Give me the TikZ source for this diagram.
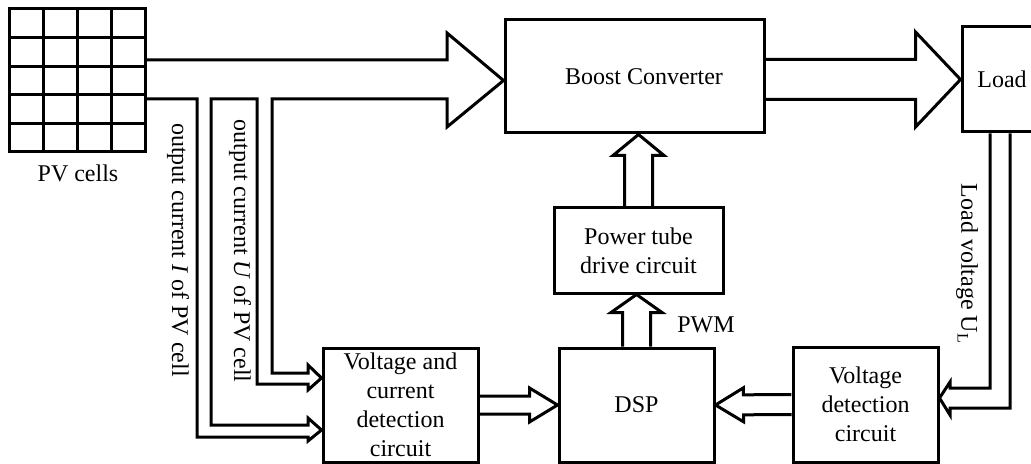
\documentclass[tikz,border=0pt]{standalone}
\usepackage{fontspec}
\setmainfont{Liberation Serif}
\usetikzlibrary{calc}

\tikzset{
  blk/.style={draw, inner sep=0pt, align=center},
  flow/.style={line join=miter},
  vlabel/.style={rotate=-90, inner sep=0pt},
}
% hollow block arrow: from, to, half shaft, half head, head length
\newcommand{\fatarrow}[5]{%
  \coordinate (fa-c) at ($(#2)!#5!(#1)$);
  \draw[flow] ($(#1)!#3!90:(#2)$) -- ($(fa-c)!#3!-90:(#1)$) -- ($(fa-c)!#4!-90:(#1)$)
    -- (#2) -- ($(fa-c)!#4!90:(#1)$) -- ($(fa-c)!#3!90:(#1)$) -- ($(#1)!#3!-90:(#2)$);
}

\begin{document}
\begin{tikzpicture}[x=0.5pt,y=-0.5pt,line width=1.5pt,font=\fontsize{12}{14.5}\selectfont]
  \useasboundingbox (0,0) rectangle (1031,464);
  % PV array 4x5
  \node[minimum width=68pt, minimum height=71.5pt, inner sep=0pt] (pv) at (77,80.5) {};
  \foreach \i in {0,...,3} \foreach \j in {0,...,4} {
    \draw (9+\i*34, 9+\j*28.6) rectangle ++(34,28.6);
  }
  \node (pvcells) at (78,173) {PV cells};

  % blocks
  \node[blk, minimum width=129.5pt, minimum height=56.5pt] (boost) at (634.5,76.5) {\hspace*{9.5pt}Boost Converter};
  \node[blk, minimum width=40pt, minimum height=52.5pt] (load) at (1002,79.5) {Load};
  \node[blk, minimum width=84.5pt, minimum height=42.5pt] (drive) at (638.5,250.5) {Power tube\\drive circuit};
  \node[blk, minimum width=77.5pt, minimum height=57pt] (dsp) at (636.5,405) {DSP};
  \node[blk, minimum width=77.5pt, minimum height=57pt] (vcd) at (400.5,405) {Voltage and\\current\\detection\\circuit};
  \node[blk, minimum width=72.5pt, minimum height=57.5pt] (vd) at (865.5,404.5) {Voltage\\detection\\circuit};

  % labels
  \node[vlabel] (ilabel) at (178,250) {output current \textit{I} of PV cell};
  \node[vlabel] (ulabel) at (240,251) {output current \textit{U} of PV cell};
  \node[vlabel] (ullabel) at (967,264) {Load voltage U\textsubscript{L}};
  \node (pwm) at (706,325) {PWM};

  % power path from PV cells with the two sensing branches
  \draw[flow] (pv.east |- 0,60) -- (447,60) -- (447,33) -- (boost.west |- pv.east) -- (447,127) -- (447,99)
    -- (272,99) |- (308,373) -- (308,365) -- (vcd.west |- 0,378) -- (308,390) -- (308,384) -| (257,99)
    -- (211,99) |- (308,425) -- (308,418) -- (vcd.west |- 0,430) -- (308,441) -- (308,437) -| (197,99)
    -- (pv.east |- 0,99);

  % load voltage feedback
  \draw[flow] (load.south -| 990,0) |- (950,388) -- (950,382) -- (vd.east |- 0,398)
    -- (950,415) -- (950,408) -| (load.south -| 1010,0);

  % block arrows
  \fatarrow{boost.east |- load.west}{load.west}{10pt}{23.75pt}{22.5pt}
  \fatarrow{drive.north}{drive.north |- boost.south}{7pt}{12.75pt}{10.5pt}
  \fatarrow{dsp.north}{dsp.north |- drive.south}{7pt}{12.75pt}{9pt}
  \fatarrow{vcd.east}{dsp.west}{4.5pt}{8.5pt}{14pt}
  \fatarrow{vd.west}{dsp.east}{5pt}{8.5pt}{14pt}
\end{tikzpicture}
\end{document}
